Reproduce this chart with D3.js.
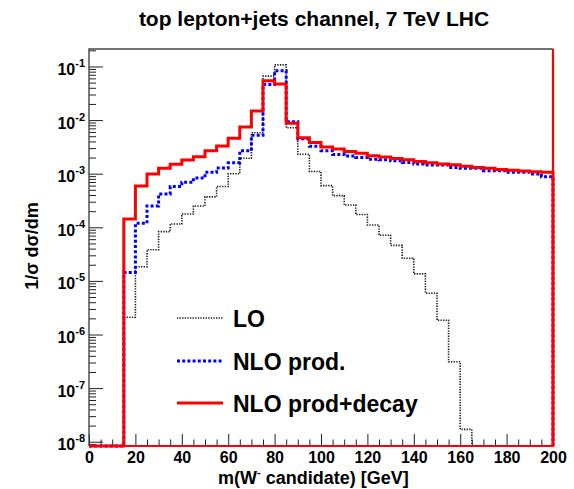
<!DOCTYPE html>
<html>
<head>
<meta charset="utf-8">
<script src="https://cdn.jsdelivr.net/npm/d3@7"></script>
<style>
  html, body { margin: 0; padding: 0; background: #fff; }
  svg { display: block; font-family: "Liberation Sans", Arial, Helvetica, sans-serif; font-weight: bold; }
</style>
</head>
<body>
<svg id="chart" width="574" height="489"></svg>
<script>
// Bin lower edges of m(W- candidate) in GeV (5 GeV bins)
const binLow = [0, 5, 10, 15, 20, 25, 30, 35, 40, 45, 50, 55, 60, 65, 70, 75, 80, 85, 90, 95,
                100, 105, 110, 115, 120, 125, 130, 135, 140, 145, 150, 155, 160, 165, 170, 175, 180, 185, 190, 195];
const binWidth = 5;

// 1/sigma dsigma/dm per bin
const loValues = [0, 0, 0, 2.1e-6, 1.84e-5, 3.8e-5, 8.3e-5, 1.15e-4, 1.77e-4, 2.5e-4,
                  3.7e-4, 5.75e-4, 1.0e-3, 1.94e-3, 5.8e-3, 6.6e-2, 0.107, 7.2e-3, 2.3e-3, 1.1e-3,
                  6.0e-4, 3.9e-4, 2.6e-4, 1.73e-4, 1.1e-4, 7.1e-5, 4.6e-5, 2.65e-5, 1.35e-5, 5.9e-6,
                  1.84e-6, 3.1e-7, 1.7e-8, 0, 0, 0, 0, 0, 0, 0];
const nloProdValues = [0, 0, 0, 1.43e-5, 1.19e-4, 2.5e-4, 4.2e-4, 5.75e-4, 6.9e-4, 8.3e-4,
                       1.06e-3, 1.27e-3, 1.6e-3, 2.67e-3, 5.2e-3, 4.6e-2, 8.3e-2, 9.3e-3, 4.5e-3, 3.24e-3,
                       2.67e-3, 2.28e-3, 2.13e-3, 2.0e-3, 1.86e-3, 1.82e-3, 1.74e-3, 1.62e-3, 1.51e-3, 1.45e-3,
                       1.45e-3, 1.31e-3, 1.26e-3, 1.26e-3, 1.14e-3, 1.14e-3, 1.06e-3, 1.06e-3, 0.99e-3, 0.88e-3];
const nloDecayValues = [0, 0, 0, 1.43e-4, 5.9e-4, 9.9e-4, 1.26e-3, 1.5e-3, 1.8e-3, 2.07e-3,
                        2.67e-3, 3.3e-3, 4.6e-3, 7.4e-3, 1.47e-2, 5.4e-2, 4.7e-2, 8.7e-3, 4.7e-3, 3.8e-3,
                        3.16e-3, 2.88e-3, 2.59e-3, 2.4e-3, 2.16e-3, 2.04e-3, 1.92e-3, 1.82e-3, 1.69e-3, 1.6e-3,
                        1.51e-3, 1.47e-3, 1.37e-3, 1.31e-3, 1.26e-3, 1.2e-3, 1.16e-3, 1.12e-3, 1.09e-3, 1.06e-3];

const xMajorTicks = [0, 20, 40, 60, 80, 100, 120, 140, 160, 180, 200];
const yDecadeExponents = [-8, -7, -6, -5, -4, -3, -2, -1];
const titleText = "top lepton+jets channel, 7 TeV LHC";
const legendLabels = ["LO", "NLO prod.", "NLO prod+decay"];

// ---- layout ----
const svg = d3.select("#chart");
const frame = { left: 89, right: 553, top: 49, bottom: 446 };
const yMin = Math.pow(10, -8.08), yMax = Math.pow(10, -0.674);

const x = d3.scaleLinear().domain([0, 200]).range([frame.left, frame.right]);
const y = d3.scaleLog().domain([yMin, yMax]).range([frame.bottom, frame.top]);

// ---- axes (ticks point into the frame) ----
const xMinor = [];
for (let v = 0; v <= 200; v += 5) if (v % 20 !== 0) xMinor.push(v);

svg.append("g")
  .attr("transform", `translate(0,${frame.bottom})`)
  .call(d3.axisBottom(x).tickValues(xMinor).tickSize(-6.5).tickFormat(""))
  .call(g => g.select(".domain").remove())
  .call(g => g.selectAll("line").attr("stroke", "#222"));

svg.append("g")
  .attr("transform", `translate(0,${frame.bottom})`)
  .call(d3.axisBottom(x).tickValues(xMajorTicks).tickSize(-12).tickPadding(5.5).tickFormat(d3.format("d")))
  .call(g => g.select(".domain").remove())
  .call(g => g.selectAll("line").attr("stroke", "#222"))
  .call(g => g.selectAll("text")
    .attr("fill", "#000")
    .style("font-family", "'Liberation Sans', Arial, sans-serif")
    .style("font-weight", "bold")
    .style("font-size", "16px"));

const yMinor = [];
for (let d = -9; d <= 0; d++) {
  for (let k = 2; k <= 9; k++) {
    const v = k * Math.pow(10, d);
    if (v > yMin && v < yMax) yMinor.push(v);
  }
}
const yMajor = yDecadeExponents.map(e => Math.pow(10, e));

svg.append("g")
  .attr("transform", `translate(${frame.left},0)`)
  .call(d3.axisLeft(y).tickValues(yMinor).tickSize(-7).tickFormat(""))
  .call(g => g.select(".domain").remove())
  .call(g => g.selectAll("line").attr("stroke", "#222"));

svg.append("g")
  .attr("transform", `translate(${frame.left},0)`)
  .call(d3.axisLeft(y).tickValues(yMajor).tickSize(-14).tickFormat(""))
  .call(g => g.select(".domain").remove())
  .call(g => g.selectAll("line").attr("stroke", "#222"));

// power-of-ten labels
const yLab = svg.append("g").attr("font-size", 16).attr("fill", "#000");
yDecadeExponents.forEach(e => {
  const t = yLab.append("text")
    .attr("x", 85)
    .attr("y", y(Math.pow(10, e)) + 8.5)
    .attr("text-anchor", "end");
  t.append("tspan").text("10");
  t.append("tspan").attr("font-size", 11).attr("dy", -8).text("-" + Math.abs(e));
});

// ---- histograms ----
function stepPoints(vals) {
  const pts = [[0, yMin]];
  vals.forEach((v, i) => {
    const yv = v > 0 ? Math.max(v, yMin) : yMin;
    pts.push([binLow[i], yv], [binLow[i] + binWidth, yv]);
  });
  pts.push([200, yMin]);
  return pts;
}
const stepLine = d3.line().x(d => x(d[0])).y(d => y(d[1]));

const series = [
  { vals: loValues, stroke: "#1a1a1a", width: 1.6, dash: "1.3,1.3" },
  { vals: nloProdValues, stroke: "#0000ff", width: 3, dash: "3,2.2" },
  { vals: nloDecayValues, stroke: "#ff0000", width: 3, dash: null }
];

// frame (left / top)
svg.append("path")
  .attr("d", `M${frame.right},${frame.top}H${frame.left}V${frame.bottom}`)
  .attr("fill", "none").attr("stroke", "#444").attr("stroke-width", 1.4);

series.forEach(s => {
  svg.append("path")
    .attr("d", stepLine(stepPoints(s.vals)))
    .attr("fill", "none")
    .attr("stroke", s.stroke)
    .attr("stroke-width", s.width)
    .attr("stroke-dasharray", s.dash)
    .attr("stroke-linejoin", "miter");
});

// frame (bottom / right) carry the histogram outline colour
svg.append("path")
  .attr("d", `M${frame.left},${frame.bottom}H${frame.right}V${frame.top}`)
  .attr("fill", "none").attr("stroke", "#ff0000").attr("stroke-width", 2.2);

// ---- legend ----
const legendY = [318, 361, 403];
const legend = svg.append("g");
series.forEach((s, i) => {
  legend.append("line")
    .attr("x1", 177).attr("x2", 223)
    .attr("y1", legendY[i]).attr("y2", legendY[i])
    .attr("stroke", s.stroke)
    .attr("stroke-width", s.width)
    .attr("stroke-dasharray", s.dash);
  legend.append("text")
    .attr("x", 233).attr("y", legendY[i] + 8.5)
    .attr("font-size", 23)
    .attr("fill", "#000")
    .text(legendLabels[i]);
});

// ---- titles ----
svg.append("text")
  .attr("x", 314).attr("y", 26)
  .attr("text-anchor", "middle")
  .attr("font-size", 21)
  .text(titleText);

const xt = svg.append("text")
  .attr("x", 218).attr("y", 484)
  .attr("font-size", 18);
xt.append("tspan").text("m(W");
xt.append("tspan").attr("font-size", 11).attr("dy", -8).text("-");
xt.append("tspan").attr("dy", 8).text(" candidate) [GeV]");

svg.append("text")
  .attr("transform", "translate(38,246) rotate(-90)")
  .attr("text-anchor", "middle")
  .attr("font-size", 18)
  .text("1/σ dσ/dm");
</script>
</body>
</html>
